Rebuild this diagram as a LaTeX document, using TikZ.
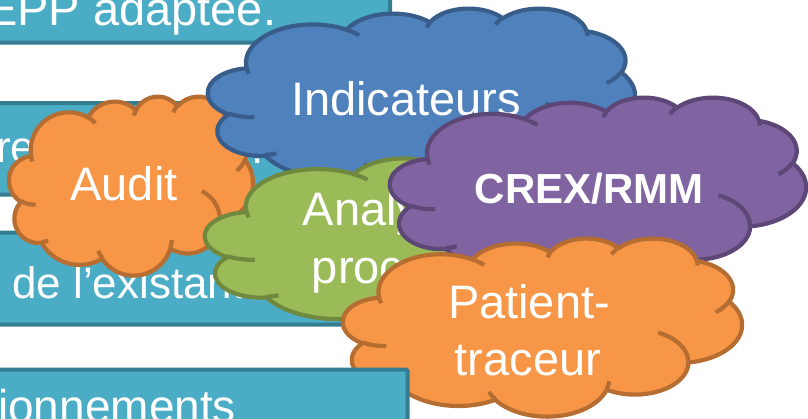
\documentclass[tikz,border=0pt]{standalone}
\usepackage{fontspec}
\setmainfont{Liberation Sans}
\definecolor{tealF}{HTML}{4BACC6}
\definecolor{tealD}{HTML}{357D91}
\definecolor{blueF}{HTML}{4F81BD}
\definecolor{blueD}{HTML}{385D8A}
\definecolor{orangeF}{HTML}{F79646}
\definecolor{orangeD}{HTML}{B66D31}
\definecolor{greenF}{HTML}{9BBB59}
\definecolor{greenD}{HTML}{71893F}
\definecolor{purpleF}{HTML}{8064A2}
\definecolor{purpleD}{HTML}{5C4776}
\tikzset{
  tealbox/.style={fill=tealF, draw=tealD, line width=4pt, rounded corners=1.5pt},
  cloudline/.style={line width=4.2pt, line join=round},
  boxtext/.style={text=white, inner sep=0pt, anchor=base west, font=\fontsize{44}{52}\selectfont},
  cloudtext/.style={text=white, inner sep=0pt, anchor=base, font=\fontsize{47}{56}\selectfont},
}
\def\cldT#1#2#3{atand((#1)*sind(#3),(#2)*cosd(#3))}
\def\cldD#1#2#3#4{((\cldT{#1}{#2}{(#3+#4)/60000})-(\cldT{#1}{#2}{(#3)/60000}))+360*(((\cldT{#1}{#2}{(#3+#4)/60000})-(\cldT{#1}{#2}{(#3)/60000}))<0)}
\def\cldarc#1#2#3#4{ arc[x radius=\fpeval{#1/100}, y radius=\fpeval{#2/100}, start angle=\fpeval{round(\cldT{#1}{#2}{(#3)/60000},4)}, delta angle=\fpeval{round(\cldD{#1}{#2}{#3}{#4},4)}] }
\edef\cldouter{(39,143.70)
 \cldarc{6753}{9190}{-11429249}{7426832}
 \cldarc{5333}{7267}{-8646143}{5396714}
 \cldarc{4365}{5945}{-8748475}{5983381}
 \cldarc{4857}{6595}{-7859164}{7034504}
 \cldarc{5333}{7273}{-4722533}{6541615}
 \cldarc{6775}{9220}{-2776035}{7816140}
 \cldarc{5785}{7867}{37501}{6842000}
 \cldarc{6752}{9215}{1347096}{6910353}
 \cldarc{7720}{10543}{3974558}{4542661}
 \cldarc{4360}{5918}{-16496525}{8804134}
 \cldarc{4345}{5945}{-14809710}{9151131} -- cycle}
\edef\cldinner{
 (46.93,261.77) \cldarc{4345}{5945}{5204520}{1585770}
 (69.28,348.99) \cldarc{4360}{5918}{4416628}{686848}
 (164.78,390.90) \cldarc{6752}{9215}{8257449}{844866}
 (288.27,347.51) \cldarc{6752}{9215}{387196}{959901}
 (341.29,229.54) \cldarc{5785}{7867}{-4217541}{4255042}
 (417.98,153.54) \cldarc{5333}{7273}{1819082}{1665090}
 (383.24,54.26) \cldarc{4857}{6595}{-824660}{891534}
 (290.78,39.52) \cldarc{4857}{6595}{-8950887}{1091722}
 (221.41,47.20) \cldarc{4365}{5945}{-9809656}{1061181}
 (140.00,51.92) \cldarc{6753}{9190}{-4002417}{739161}
 (41.27,157.89) \cldarc{6753}{9190}{9400851}{926319}}
\newcommand\drawcloud[6]{%
  \edef\cldxu{\fpeval{#3/432}pt}\edef\cldyu{\fpeval{-#4/432}pt}%
  \begin{scope}[shift={(#1,#2)}]
    \begin{scope}[x=\cldxu, y=\cldyu]
      \filldraw[fill=#5, draw=#6, cloudline] \cldouter;
      \draw[draw=#6, cloudline, line cap=butt] \cldinner;
    \end{scope}
  \end{scope}}
\begin{document}
\begin{tikzpicture}[x=1pt, y=-1pt]
  \useasboundingbox (0,0) rectangle (808,418);
  \clip (0,0) rectangle (808,418);
  % text boxes
  \draw[tealbox] (-20,-60) rectangle (390,42.5);
  \draw[tealbox] (-20,103) rectangle (390,194.5);
  \draw[tealbox] (-20,232.5) rectangle (390,324.5);
  \node[boxtext, font=\fontsize{47}{56}\selectfont] (t1) at (-14,25) {EPP adaptée.};
  \node[boxtext] (t2) at (-4,162) {re};
  \node[boxtext] (t2b) at (251,163) {.};
  \node[boxtext] (t3) at (12,298) {de l’existant};
  % clouds
  \drawcloud{9}{96}{244}{179}{orangeF}{orangeD}
  \node[cloudtext] (audit) at (124,200) {Audit};
  \drawcloud{208}{8}{427}{180}{blueF}{blueD}
  \node[cloudtext] (indic) at (406,115) {Indicateurs};
  \drawcloud{205}{153}{459}{176}{greenF}{greenD}
  \node[cloudtext] (ana1) at (419,225) {Analyse de};
  \node[cloudtext] (ana2) at (419,283) {processus};
  \drawcloud{390}{97}{416}{185}{purpleF}{purpleD}
  \node[cloudtext, font=\fontsize{42}{50}\selectfont\bfseries] (crex) at (589,203) {CREX/RMM};
  \drawcloud{343}{238}{399}{178}{orangeF}{orangeD}
  \node[cloudtext] (pat1) at (529,318) {Patient-};
  \node[cloudtext] (pat2) at (528,375) {traceur};
  % bottom box
  \draw[tealbox] (-20,369.5) rectangle (407.5,460);
  \node[boxtext, font=\fontsize{46}{55}\selectfont] (t4) at (-2,422) {ionnements};
\end{tikzpicture}
\end{document}
